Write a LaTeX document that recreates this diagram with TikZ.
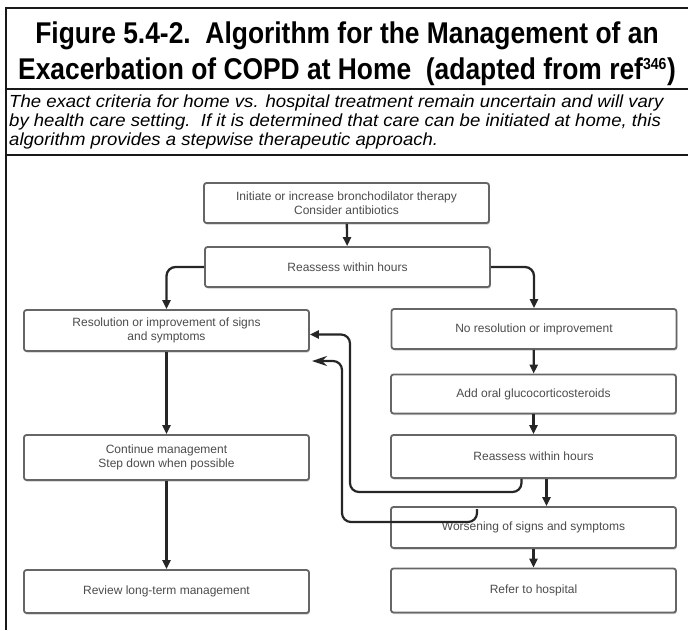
\documentclass[tikz,border=0pt]{standalone}
\usepackage{fontspec}
\setmainfont{Liberation Sans}
\newfontfamily\headfont[FakeStretch=0.88]{Liberation Sans}
\newfontfamily\introfont[FakeStretch=1.06]{Liberation Sans}
\usetikzlibrary{positioning}
\usetikzlibrary{arrows.meta, shadows}

\begin{document}
\begin{tikzpicture}[x=1pt, y=-1pt,
		>={Triangle[length=9pt, width=8pt]},
		stepbox/.style={draw=black!60, line width=1.8pt, rounded corners=2.5pt, fill=white,
			minimum width=285pt, minimum height=41pt, align=center, inner sep=2pt,
			font=\fontsize{12}{14}\selectfont, text=black!70,
			drop shadow={shadow xshift=0.8pt, shadow yshift=-1.6pt, fill=black!35, opacity=0.6}},
		flow/.style={->, draw=black!85, line width=2.3pt},
		back/.style={draw=black!85, line width=2.2pt, rounded corners=9pt},
		frameline/.style={draw=black!90, line width=2.5pt}
	]
	\useasboundingbox (0,0) rectangle (688,630);
	
	%frame
	\draw[frameline] (688,8) -- (6,8) -- (6,630);
	\draw[frameline, line width=2pt] (6,89) -- (688,89);
	\draw[frameline, line width=2pt] (6,155) -- (688,155);
	
	%heading
	\node[anchor=base, inner sep=0pt, font=\headfont\bfseries\fontsize{30}{34}\selectfont] (title1) at (347,43)
		{Figure 5.4-2.\ \ Algorithm for the Management of an};
	\node[anchor=base, inner sep=0pt, font=\headfont\bfseries\fontsize{30}{34}\selectfont] (title2) at (347,79)
		{Exacerbation of COPD at Home\ \ (adapted from ref\textsuperscript{\fontsize{16}{16}\selectfont 346})};
	\node[anchor=north west, inner sep=0pt, align=left, font=\introfont\itshape\fontsize{17.5}{18.8}\selectfont] (intro) at (9,95)
		{The exact criteria for home vs. hospital treatment remain uncertain and will vary\\
		by health care setting.\ \ If it is determined that care can be initiated at home, this\\
		algorithm provides a stepwise therapeutic approach.};
	
	%boxes
	\node[stepbox, minimum height=40pt] (init) at (346.5,203)
		{Initiate or increase bronchodilator therapy\\ Consider antibiotics};
	\node[stepbox, minimum height=40pt] (reassA) at (347.5,267) {Reassess within hours};
	\node[stepbox] (resol) at (166.5,330.5) {Resolution or improvement of signs\\ and symptoms};
	\node[stepbox, minimum height=40pt] (nores) at (534,329) {No resolution or improvement};
	\node[stepbox, minimum height=39pt] (oral) at (533.5,394) {Add oral glucocorticosteroids};
	\node[stepbox, minimum height=43pt] (reassB) at (533.5,456.5) {Reassess within hours};
	\node[stepbox] (worse) at (533.5,527.5) {Worsening of signs and symptoms};
	\node[stepbox, minimum height=44pt] (refer) at (533.5,590.5) {Refer to hospital};
	\node[stepbox, minimum height=45pt] (cont) at (166.5,457.5) {Continue management\\ Step down when possible};
	\node[stepbox, minimum height=43pt] (review) at (166.5,591.5) {Review long-term management};
	
	%main flow
	\draw[flow] (init) -- (reassA);
	\draw[flow, rounded corners=9pt] (reassA.west) -| (resol.north);
	\draw[flow, rounded corners=9pt] (reassA.east) -| (nores.north);
	\draw[flow] (nores) -- (oral);
	\draw[flow] (oral) -- (reassB);
	\draw[flow] ([xshift=13pt]reassB.south) -- ([xshift=13pt]worse.north);
	\draw[flow] (worse) -- (refer);
	\draw[flow] (resol) -- (cont);
	\draw[flow] (cont) -- (review);
	
	%back to resolution
	\coordinate (loopA) at (350,492);
	\draw[back, ->] ([xshift=-12pt]reassB.south) |- (loopA) |- ([yshift=-4pt]resol.east);
	\coordinate (worseOut) at (477,509);
	\coordinate (loopB) at (342,522);
	\coordinate (resolTip) at (312,361);
	\draw[back, -{Stealth[length=15pt, width=10pt]}] (worseOut) |- (loopB) |- (resolTip);
\end{tikzpicture}
\end{document}
